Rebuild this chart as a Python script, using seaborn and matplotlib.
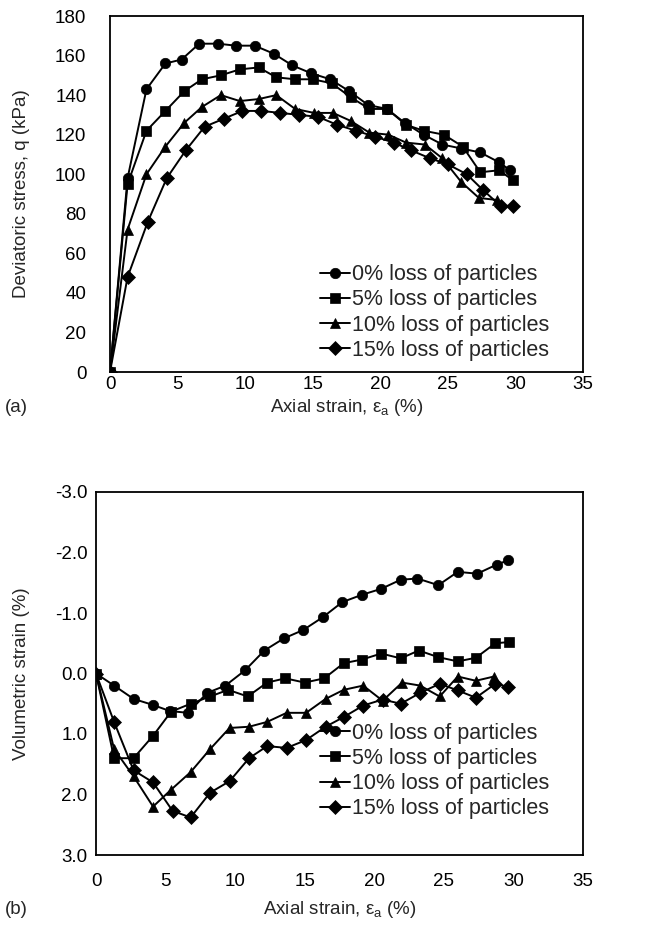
import numpy as np
import pandas as pd
import matplotlib
matplotlib.use("Agg")
import matplotlib.pyplot as plt
import seaborn as sns

sns.set_theme(style="white")
plt.rcParams['font.family'] = ['Liberation Sans', 'DejaVu Sans']
plt.rcParams['mathtext.fontset'] = 'custom'
plt.rcParams['mathtext.rm'] = 'Liberation Sans'
plt.rcParams['mathtext.it'] = 'Liberation Sans'
plt.rcParams['axes.unicode_minus'] = False

labels = ["0% loss of particles", "5% loss of particles",
          "10% loss of particles", "15% loss of particles"]
markers = ["o", "s", "^", "D"]

# (a) deviatoric stress
xa0 = [0, 1.3, 2.7, 4.1, 5.3, 6.6, 8.0, 9.3, 10.7, 12.1, 13.5, 14.9, 16.3, 17.7, 19.1, 20.5, 21.8, 23.2, 24.6, 26.0, 27.4, 28.8, 29.6]
qa0 = [0, 98, 143, 156, 158, 166, 166, 165, 165, 161, 155, 151, 148, 142, 135, 133, 126, 120, 115, 113, 111, 106, 102]
xa5 = [0, 1.3, 2.7, 4.1, 5.5, 6.8, 8.2, 9.6, 11.0, 12.3, 13.7, 15.0, 16.4, 17.8, 19.2, 20.5, 21.9, 23.2, 24.7, 26.1, 27.4, 28.8, 29.8]
qa5 = [0, 95, 122, 132, 142, 148, 150, 153, 154, 149, 148, 148, 146, 139, 133, 133, 125, 122, 120, 114, 101, 102, 97]
xa10 = [0, 1.3, 2.7, 4.1, 5.5, 6.8, 8.2, 9.6, 11.0, 12.3, 13.7, 15.1, 16.5, 17.8, 19.2, 20.6, 21.9, 23.3, 24.6, 26.0, 27.3, 28.6]
qa10 = [0, 72, 100, 114, 126, 134, 140, 137, 138, 140, 133, 131, 131, 127, 121, 120, 116, 115, 108, 96, 88, 87]
xa15 = [0, 1.3, 2.8, 4.2, 5.6, 7.0, 8.4, 9.8, 11.2, 12.6, 14.0, 15.4, 16.8, 18.2, 19.6, 21.0, 22.3, 23.7, 25.0, 26.4, 27.6, 28.9, 29.8]
qa15 = [0, 48, 76, 98, 112, 124, 128, 132, 132, 131, 130, 129, 125, 122, 119, 116, 112, 108, 105, 100, 92, 84, 84]

# (b) volumetric strain
xb0 = [0, 1.3, 2.7, 4.1, 5.3, 6.6, 8.0, 9.3, 10.7, 12.1, 13.5, 14.9, 16.3, 17.7, 19.1, 20.5, 21.9, 23.1, 24.6, 26.0, 27.4, 28.8, 29.6]
vb0 = [0, 0.2, 0.42, 0.52, 0.62, 0.65, 0.32, 0.2, -0.05, -0.38, -0.58, -0.72, -0.93, -1.18, -1.30, -1.40, -1.55, -1.57, -1.46, -1.68, -1.65, -1.80, -1.87]
xb5 = [0, 1.3, 2.7, 4.1, 5.4, 6.8, 8.2, 9.5, 10.9, 12.3, 13.6, 15.0, 16.4, 17.8, 19.1, 20.5, 21.9, 23.2, 24.6, 26.0, 27.3, 28.7, 29.7]
vb5 = [0, 1.4, 1.4, 1.03, 0.63, 0.5, 0.38, 0.27, 0.38, 0.15, 0.08, 0.15, 0.08, -0.17, -0.23, -0.33, -0.25, -0.38, -0.27, -0.20, -0.26, -0.5, -0.52]
xb10 = [0, 1.3, 2.7, 4.1, 5.4, 6.8, 8.2, 9.6, 11.0, 12.3, 13.7, 15.1, 16.5, 17.8, 19.2, 20.6, 22.0, 23.3, 24.7, 26.0, 27.3, 28.6]
vb10 = [0, 1.25, 1.7, 2.2, 1.92, 1.63, 1.25, 0.9, 0.88, 0.8, 0.65, 0.65, 0.42, 0.27, 0.2, 0.45, 0.15, 0.2, 0.38, 0.05, 0.12, 0.05]
xb15 = [0, 1.3, 2.7, 4.1, 5.5, 6.8, 8.2, 9.6, 11.0, 12.3, 13.7, 15.1, 16.5, 17.8, 19.2, 20.6, 21.9, 23.3, 24.7, 26.0, 27.3, 28.7, 29.6]
vb15 = [0, 0.8, 1.6, 1.8, 2.27, 2.38, 1.97, 1.78, 1.4, 1.2, 1.23, 1.1, 0.88, 0.72, 0.53, 0.43, 0.5, 0.32, 0.17, 0.28, 0.4, 0.17, 0.22]

xticks = [0, 5, 10, 15, 20, 25, 30, 35]
ya_ticks = [0, 20, 40, 60, 80, 100, 120, 140, 160, 180]
yb_ticks = [-3.0, -2.0, -1.0, 0.0, 1.0, 2.0, 3.0]


def frame(xs, ys):
    rows = []
    for lab, x, y in zip(labels, xs, ys):
        for a, b in zip(x, y):
            rows.append((lab, a, b))
    return pd.DataFrame(rows, columns=["series", "x", "y"])


dfa = frame([xa0, xa5, xa10, xa15], [qa0, qa5, qa10, qa15])
dfb = frame([xb0, xb5, xb10, xb15], [vb0, vb5, vb10, vb15])

W, H = 670, 935
fig = plt.figure(figsize=(6.7, 9.35), dpi=100)
# axes boxes in pixels: (left, top, right, bottom)
a_box = (110, 16, 583, 372)
b_box = (96, 492, 583, 855)


def add_axes(box):
    l, t, r, b = box
    return fig.add_axes([l / W, 1 - b / H, (r - l) / W, (b - t) / H])


ax1 = add_axes(a_box)
ax2 = add_axes(b_box)

FS = 13.5
LFS = 15.5
for ax, df, box in [(ax1, dfa, a_box), (ax2, dfb, b_box)]:
    sns.lineplot(data=df, x="x", y="y", hue="series", style="series",
                 hue_order=labels, style_order=labels,
                 palette=["black"] * 4, markers=markers, dashes=False,
                 sort=False, estimator=None, ax=ax, linewidth=1.4,
                 markersize=7.5, markeredgecolor="black", markeredgewidth=0.5)
    for s in ax.spines.values():
        s.set_color("black")
        s.set_linewidth(1.3)
    ax.set_xlim(0, 35)
    ax.set_xticks(xticks)
    ax.tick_params(direction="in", length=5, width=1.1, colors="black",
                   labelsize=FS)
    ax.set_xlabel("Axial strain, ε$_{\\rm a}$ (%)", fontsize=FS)
    leg = ax.legend(loc="center left", frameon=False, fontsize=LFS,
                    handlelength=1.4, handletextpad=0.1, labelspacing=0.19,
                    borderaxespad=0, borderpad=0)
    for h in leg.legend_handles:
        h.set_color("black")

# legend placement (left edge and centre of the 4 rows, in pixels)
ax1.get_legend().set_bbox_to_anchor(((320 - 110) / 473, (372 - 312.5) / 356))
ax2.get_legend().set_bbox_to_anchor(((320 - 96) / 487, (855 - 771) / 363))

ax1.set_ylim(0, 180)
ax1.set_yticks(ya_ticks)
ax1.set_ylabel("Deviatoric stress, q (kPa)", fontsize=FS)
ax1.tick_params(axis="y", pad=17)
ax1.tick_params(axis="x", pad=3)
ax1.yaxis.set_label_coords((22 - 110) / 473, 0.5)
ax1.xaxis.set_label_coords(0.5, (372 - 407) / 356)

ax2.set_ylim(3.0, -3.0)
ax2.set_yticks(yb_ticks)
ax2.set_yticklabels([f"{v:.1f}" for v in yb_ticks])
ax2.set_ylabel("Volumetric strain (%)", fontsize=FS)
ax2.tick_params(axis="y", pad=6)
ax2.tick_params(axis="x", pad=13)
ax2.yaxis.set_label_coords((22 - 96) / 487, 0.5)
ax2.xaxis.set_label_coords(0.5, (855 - 910) / 363)
for ax in (ax1, ax2):
    ax.xaxis.label.set_verticalalignment("center")
    ax.yaxis.label.set_verticalalignment("center")

fig.text(5 / W, 1 - 407 / H, "(a)", fontsize=FS, va="center")
fig.text(5 / W, 1 - 910 / H, "(b)", fontsize=FS, va="center")

fig.savefig("out.png", dpi=100, facecolor="white")
